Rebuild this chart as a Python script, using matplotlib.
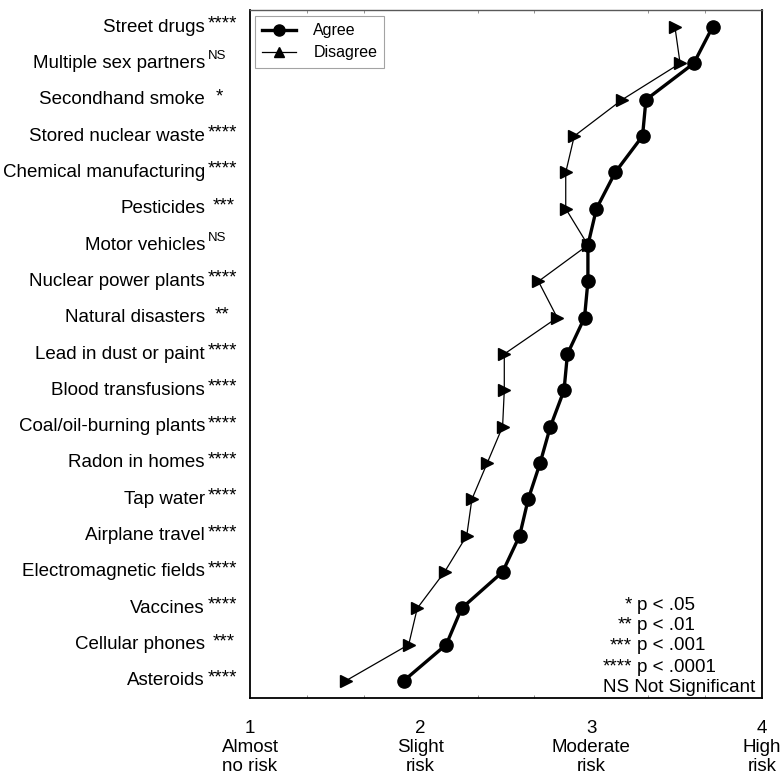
import matplotlib
matplotlib.use("Agg")
import matplotlib.pyplot as plt
from matplotlib.lines import Line2D
import numpy as np

plt.rcParams['font.family'] = ['Liberation Sans', 'DejaVu Sans']

categories = ["Street drugs", "Multiple sex partners", "Secondhand smoke",
              "Stored nuclear waste", "Chemical manufacturing", "Pesticides",
              "Motor vehicles", "Nuclear power plants", "Natural disasters",
              "Lead in dust or paint", "Blood transfusions", "Coal/oil-burning plants",
              "Radon in homes", "Tap water", "Airplane travel",
              "Electromagnetic fields", "Vaccines", "Cellular phones", "Asteroids"]
significance = ["****", "NS", "*", "****", "****", "***", "NS", "****", "**",
                "****", "****", "****", "****", "****", "****", "****", "****",
                "***", "****"]
agree = [3.71, 3.60, 3.32, 3.30, 3.14, 3.03, 2.98, 2.98, 2.96, 2.86, 2.84,
         2.76, 2.70, 2.63, 2.58, 2.48, 2.24, 2.15, 1.90]
disagree = [3.49, 3.52, 3.18, 2.90, 2.85, 2.85, 2.98, 2.69, 2.80, 2.49, 2.49,
            2.48, 2.39, 2.30, 2.27, 2.14, 1.98, 1.93, 1.56]
xticks = [1, 2, 3, 4]
xticklabels = ["1\nAlmost\nno risk", "2\nSlight\nrisk", "3\nModerate\nrisk", "4\nHigh\nrisk"]
sig_legend = [("*", "p < .05"), ("**", "p < .01"), ("***", "p < .001"),
              ("****", "p < .0001")]

W, H = 783, 780
fig = plt.figure(figsize=(W/100, H/100), dpi=100)
ax = fig.add_axes([250/W, 1-698/H, (762-250)/W, (698-10)/H])

y = np.arange(len(categories))
ax.plot(disagree, y, color='black', lw=0.9, marker='>', ms=8, zorder=2)
ax.plot(agree, y, color='black', lw=2.4, marker='o', ms=9.5, zorder=3)

ax.set_xlim(1, 4)
ax.set_ylim(len(categories) - 0.53, -0.47)
ax.set_yticks([])
ax.set_xticks(xticks)
ax.set_xticklabels(xticklabels, fontsize=13.5, linespacing=1.15)
ax.tick_params(axis='x', which='major', length=0, pad=16)
ax.set_xticks(np.arange(1, 4.01, 1/3), minor=True)
ax.tick_params(axis='x', which='minor', direction='in', length=2, width=0.5,
               color='0.4', top=True, bottom=True)
for s in ['left', 'right', 'bottom']:
    ax.spines[s].set_linewidth(1.3)
ax.spines['top'].set_linewidth(1.0)
ax.spines['top'].set_color('0.35')


def fx(px):
    return px / W


def fy(py):
    return 1 - py / H


# category labels (axes x-coords in fraction of axes width)
trans = ax.get_yaxis_transform()
axw = 762 - 250
for yi, (name, sig) in enumerate(zip(categories, significance)):
    ax.text((205 - 250) / axw, yi, name, transform=trans, ha='right', va='center',
            fontsize=13.5, clip_on=False)
    if sig == "NS":
        ax.text((208 - 250) / axw, yi - 0.19, sig, transform=trans, ha='left',
                va='center', fontsize=9.5, clip_on=False)
    else:
        start = {4: 208, 3: 213, 2: 215, 1: 216}[len(sig)]
        ax.text((start - 250) / axw, yi - 0.08, sig, transform=trans, ha='left',
                va='center', fontsize=13.5, clip_on=False)

# significance key
key_y = [605, 625, 646, 667]
for (st, txt), yy in zip(sig_legend, key_y):
    fig.text(fx(637), fy(yy), txt, ha='left', va='center', fontsize=13.5)
    fig.text(fx(632), fy(yy), st, ha='right', va='center', fontsize=13.5)
fig.text(fx(603), fy(688), "NS Not Significant", ha='left', va='center',
         fontsize=13.5)

handles = [Line2D([], [], color='black', lw=2.4, marker='o', ms=8),
           Line2D([], [], color='black', lw=0.9, marker='^', ms=7)]
leg = ax.legend(handles, ["Agree", "Disagree"], loc='upper left', fontsize=11.5,
                frameon=True, fancybox=False, handlelength=2.1, borderpad=0.45,
                borderaxespad=0, bbox_to_anchor=(5/512, 1-6/688),
                handletextpad=1.1, labelspacing=0.45)
leg.get_frame().set_edgecolor('0.55')
leg.get_frame().set_linewidth(0.8)

fig.savefig("out.png", dpi=100)
